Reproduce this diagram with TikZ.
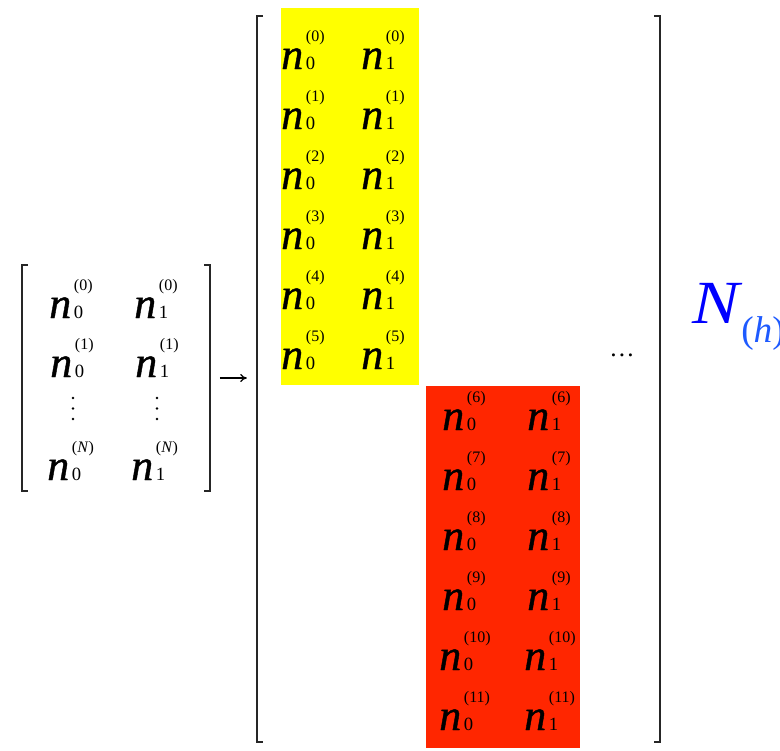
\documentclass[tikz,border=0pt]{standalone}
\usepackage{fontspec}
\setmainfont{Liberation Serif}
\newfontfamily\nfont[FakeBold=0.9]{Liberation Serif Italic}
\usetikzlibrary{arrows.meta}
\definecolor{yelbox}{RGB}{255,255,0}
\definecolor{redbox}{RGB}{255,38,0}
\definecolor{nblue}{RGB}{0,0,255}
\definecolor{hblue}{RGB}{30,90,255}
\newcommand{\ent}[2]{{\fontsize{33}{33}\nfont n}\hspace{2pt}\rlap{\fontsize{14}{14}\selectfont #1}\raisebox{20.5pt}{\fontsize{12}{12}\selectfont #2}}
\begin{document}
\begin{tikzpicture}[x=0.75pt,y=-0.75pt,
  entry/.style={inner sep=0pt, anchor=base west},
  brk/.style={line width=1.4pt, draw=black!85},
  vdot/.style={circle, fill=black, inner sep=0pt, minimum size=2.2pt}]
\useasboundingbox (0,0) rectangle (780,750);
\clip (0,0) rectangle (780,750);
% coloured blocks
\fill[yelbox] (281,8) rectangle (419,385);
\fill[redbox] (426,386) rectangle (580,748);
% left matrix brackets
\draw[brk] (28,265) -- (22,265) -- (22,491) -- (28,491);
\draw[brk] (204,265) -- (210,265) -- (210,491) -- (204,491);
% big matrix brackets
\draw[brk] (263,16) -- (257,16) -- (257,742) -- (263,742);
\draw[brk] (654,16) -- (660,16) -- (660,742) -- (654,742);
% matrix nodes for connector
\node[minimum width=142.5pt, minimum height=169.5pt, inner sep=0pt] (lm) at (116,378) {};
\node[minimum width=302pt, minimum height=544.5pt, inner sep=0pt] (bm) at (458.5,378) {};
\draw[-{To[length=5pt,width=6pt]}, line width=0.9pt, shorten <=6.5pt, shorten >=7.5pt] (lm.east) -- (bm.west);
% left matrix entries
\node[entry] (l00) at (49,318) {\ent{0}{(0)}};
\node[entry] (l01) at (134,318) {\ent{1}{(0)}};
\node[entry] (l10) at (50,377) {\ent{0}{(1)}};
\node[entry] (l11) at (135,377) {\ent{1}{(1)}};
\foreach \yy [count=\k] in {398,408.5,419} {
  \node[vdot] (lda\k) at (73,\yy) {};
  \node[vdot] (ldb\k) at (157,\yy) {};
}
\node[entry] (lN0) at (47,480) {\ent{0}{(\textit{N})}};
\node[entry] (lN1) at (131,480) {\ent{1}{(\textit{N})}};
% yellow block entries
\node[entry] (y00) at (281,69) {\ent{0}{(0)}};
\node[entry] (y01) at (361,69) {\ent{1}{(0)}};
\node[entry] (y10) at (281,129) {\ent{0}{(1)}};
\node[entry] (y11) at (361,129) {\ent{1}{(1)}};
\node[entry] (y20) at (281,189) {\ent{0}{(2)}};
\node[entry] (y21) at (361,189) {\ent{1}{(2)}};
\node[entry] (y30) at (281,249) {\ent{0}{(3)}};
\node[entry] (y31) at (361,249) {\ent{1}{(3)}};
\node[entry] (y40) at (281,309) {\ent{0}{(4)}};
\node[entry] (y41) at (361,309) {\ent{1}{(4)}};
\node[entry] (y50) at (281,369) {\ent{0}{(5)}};
\node[entry] (y51) at (361,369) {\ent{1}{(5)}};
% red block entries
\node[entry] (r60) at (442,430) {\ent{0}{(6)}};
\node[entry] (r61) at (527,430) {\ent{1}{(6)}};
\node[entry] (r70) at (442,490) {\ent{0}{(7)}};
\node[entry] (r71) at (527,490) {\ent{1}{(7)}};
\node[entry] (r80) at (442,550) {\ent{0}{(8)}};
\node[entry] (r81) at (527,550) {\ent{1}{(8)}};
\node[entry] (r90) at (442,610) {\ent{0}{(9)}};
\node[entry] (r91) at (527,610) {\ent{1}{(9)}};
\node[entry] (r100) at (439,670) {\ent{0}{(10)}};
\node[entry] (r101) at (524,670) {\ent{1}{(10)}};
\node[entry] (r110) at (439,730) {\ent{0}{(11)}};
\node[entry] (r111) at (524,730) {\ent{1}{(11)}};
% ellipsis
\node[inner sep=0pt, anchor=base] (dots) at (622,356) {\fontsize{19}{19}\selectfont …};
% label
\node[inner sep=0pt, anchor=base west, text=nblue] (Nh) at (692,323) {\scalebox{1.15}[1]{\fontsize{46}{46}\selectfont\itshape N}};
\node[inner sep=0pt, anchor=base west, text=hblue] (hsub) at (741,342) {\fontsize{28}{28}\selectfont(\textit{h})};
\end{tikzpicture}
\end{document}
